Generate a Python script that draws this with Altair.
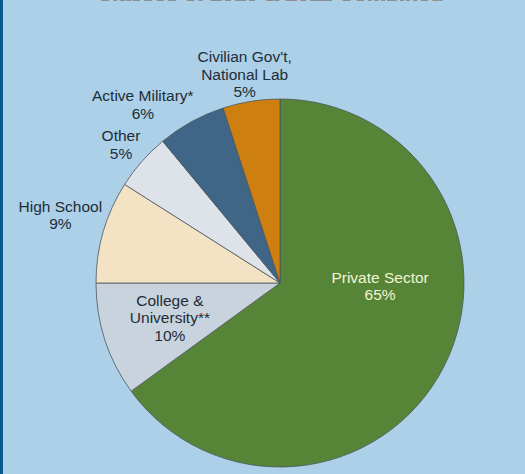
import altair as alt
import pandas as pd

# ---- data ----
categories = ["Private Sector", "College & University**", "High School",
              "Other", "Active Military*", "Civilian Gov't, National Lab"]
values = [65, 10, 9, 5, 6, 5]
label_names = [["Private Sector"], ["College &", "University**"], ["High School"],
               ["Other"], ["Active Military*"], ["Civilian Gov't,", "National Lab"]]
colors = ["#568537", "#c9d3dd", "#f4e2c4", "#dee3e9", "#3f6587", "#cd800f"]
title_text = "Classes of 2010 & 2011 Combined"

# ---- label styling (radius from centre, nudges of the label block centre, colour) ----
LINE_H = 17.5
label_style = {
    "Private Sector": (100, 11, -42, "#f4f4d4"),
    "College & University**": (110, -5.5, 1.5, "#222c38"),
    "High School": (210, -18, -9, "#222c38"),
    "Other": (210, -1.5, 1, "#222c38"),
    "Active Military*": (210, -36, 6, "#222c38"),
    "Civilian Gov't, National Lab": (210, -2.5, -1, "#222c38"),
}

df = pd.DataFrame({"cat": categories, "value": values, "idx": list(range(len(values)))})
df["label"] = ["\n".join(n + [f"{v}%"]) for n, v in zip(label_names, values)]
df["nlines"] = [len(n) + 1 for n in label_names]
cum = df["value"].cumsum()
df["mid"] = cum - df["value"] / 2.0

total = float(sum(values))
theta_scale = alt.Scale(domain=[0, total])

pie = alt.Chart(df).mark_arc(outerRadius=184, stroke="#4c555c", strokeWidth=0.8).encode(
    theta=alt.Theta("value:Q", stack=True, scale=theta_scale),
    order=alt.Order("idx:Q"),
    color=alt.Color("cat:N", scale=alt.Scale(domain=categories, range=colors), legend=None),
)

layers = [pie]
for c, n in zip(categories, df["nlines"]):
    r, dx, dy, col = label_style[c]
    dy_first = dy - (n - 1) / 2.0 * LINE_H  # Vega anchors the first line
    t = alt.Chart(df).transform_filter(alt.datum.cat == c).mark_text(
        radius=r, dx=dx, dy=dy_first, color=col, font="Liberation Sans", fontSize=15.5,
        lineBreak="\n", lineHeight=LINE_H, align="center", baseline="middle",
    ).encode(
        theta=alt.Theta("mid:Q", stack=None, scale=theta_scale),
        text="label:N",
    )
    layers.append(t)

title = alt.Chart(df).mark_text(
    text=title_text, font="Liberation Sans", fontWeight="bold", fontSize=21.5,
    color="#8e8e8e", align="center", baseline="alphabetic",
).encode(x=alt.value(235), y=alt.value(-91.5))

border = alt.Chart(df).mark_rule(color="#0b5a8e", strokeWidth=3).encode(
    x=alt.value(-33.5), y=alt.value(-92), y2=alt.value(382)
)

chart = alt.layer(*layers, title, border).properties(
    width=490, height=382,
    padding={"left": 35, "top": 92, "right": 0, "bottom": 0},
    autosize=alt.AutoSizeParams(type="none"),
    background="#abd0e7",
).configure_view(stroke=None)

chart.save("out.html", embed_options={"renderer": "svg", "actions": False})
